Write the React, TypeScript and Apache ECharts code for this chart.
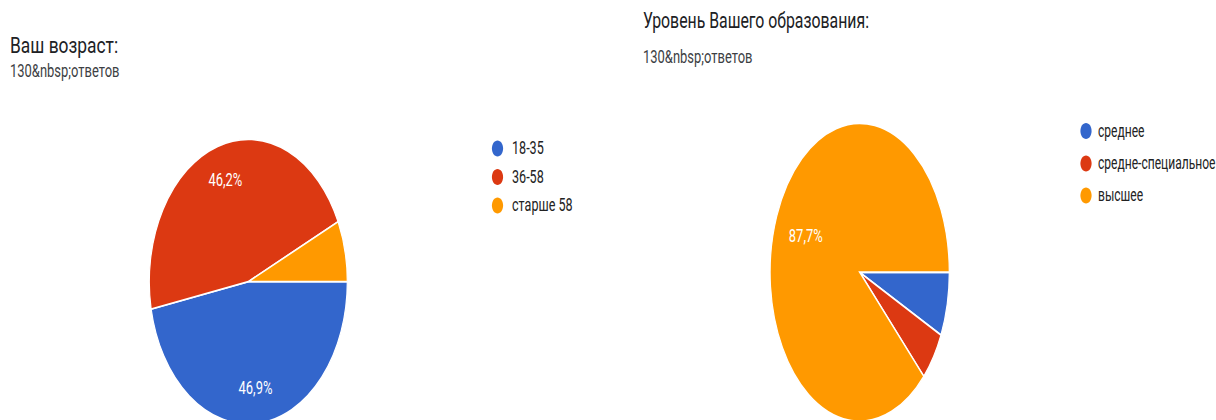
import React, { useEffect, useRef } from "react";
import * as echarts from "echarts";

// ---- data ----
const ageTitle = "Ваш возраст:";
const ageSubtitle = "130&nbsp;ответов";
const ageCategories = ["18-35", "36-58", "старше 58"];
const ageValues = [61, 60, 9];

const eduTitle = "Уровень Вашего образования:";
const eduSubtitle = "130&nbsp;ответов";
const eduCategories = ["среднее", "средне-специальное", "высшее"];
const eduValues = [9, 7, 114];

const sliceColors = ["#3366cc", "#dc3912", "#ff9900"];

// ---- layout ----
const FONT = "Roboto, 'Noto Sans', Arial, sans-serif";

type PieLayout = {
  cx: number;
  cy: number;
  rx: number;
  ry: number;
  labelF: number;
  titleX: number;
  titleY: number;
  titleSX: number;
  subY: number;
  legendDotX: number;
  legendTextX: number;
  legendY: number[];
  legendSX: number;
};

const leftLayout: PieLayout = {
  cx: 248.3,
  cy: 281.7,
  rx: 99,
  ry: 142.4,
  labelF: 0.75,
  titleX: 10,
  titleY: 45.5,
  titleSX: 0.79,
  subY: 71,
  legendDotX: 497.5,
  legendTextX: 512,
  legendY: [148.5, 177, 205.5],
  legendSX: 0.7,
};

const rightLayout: PieLayout = {
  cx: 859.7,
  cy: 272.3,
  rx: 89.6,
  ry: 149,
  labelF: 0.65,
  titleX: 643,
  titleY: 21,
  titleSX: 0.72,
  subY: 56.5,
  legendDotX: 1086,
  legendTextX: 1098,
  legendY: [131, 163.5, 195.5],
  legendSX: 0.67,
};

function buildSlices(values: number[]) {
  const total = values.reduce((a, b) => a + b, 0);
  let acc = 0;
  return values.map((v, i) => {
    const start = (acc / total) * Math.PI * 2;
    acc += v;
    const end = (acc / total) * Math.PI * 2;
    return [start, end, v, v / total, i];
  });
}

function fmtPct(share: number) {
  return (share * 100).toFixed(1).replace(".", ",") + "%";
}

function pieSeries(name: string, values: number[], L: PieLayout) {
  const data = buildSlices(values);
  return {
    type: "custom",
    name,
    coordinateSystem: "none",
    data,
    renderItem: (params: any, api: any) => {
      const start = api.value(0);
      const end = api.value(1);
      const share = api.value(3);
      const idx = api.value(4);
      const aspect = L.ry / L.rx;
      const children: any[] = [
        {
          type: "sector",
          scaleY: aspect,
          shape: { cx: 0, cy: 0, r0: 0, r: L.rx, startAngle: start, endAngle: end, clockwise: true },
          style: { fill: sliceColors[idx], stroke: "#ffffff", lineWidth: 1.2, strokeNoScale: true },
        },
      ];
      if (share > 0.1) {
        const mid = (start + end) / 2;
        children.push({
          type: "text",
          x: L.rx * L.labelF * Math.cos(mid),
          y: L.ry * L.labelF * Math.sin(mid),
          scaleX: 0.72,
          style: {
            text: fmtPct(share),
            fill: "#ffffff",
            font: `18px ${FONT}`,
            align: "center",
            verticalAlign: "middle",
          },
        });
      }
      return { type: "group", x: L.cx, y: L.cy, children };
    },
  };
}

function headerAndLegend(title: string, sub: string, cats: string[], L: PieLayout) {
  const els: any[] = [
    {
      type: "text",
      x: L.titleX,
      y: L.titleY,
      scaleX: L.titleSX,
      style: { text: title, fill: "#202124", font: `22px ${FONT}`, verticalAlign: "middle" },
    },
    {
      type: "text",
      x: L.titleX,
      y: L.subY,
      scaleX: 0.72,
      style: { text: sub, fill: "#3c4043", font: `18px ${FONT}`, verticalAlign: "middle" },
    },
  ];
  cats.forEach((c, i) => {
    els.push({
      type: "ellipse",
      shape: { cx: L.legendDotX, cy: L.legendY[i], rx: 5.6, ry: 8 },
      style: { fill: sliceColors[i] },
    });
    els.push({
      type: "text",
      x: L.legendTextX,
      y: L.legendY[i],
      scaleX: L.legendSX,
      style: { text: c, fill: "#222222", font: `18px ${FONT}`, verticalAlign: "middle" },
    });
  });
  return els;
}

export default function App() {
  const ref = useRef<HTMLDivElement>(null);
  useEffect(() => {
    if (!ref.current) return;
    const chart = echarts.init(ref.current, undefined, { renderer: "svg" });
    chart.setOption({
      animation: false,
      backgroundColor: "#ffffff",
      series: [pieSeries("age", ageValues, leftLayout), pieSeries("edu", eduValues, rightLayout)],
      graphic: {
        elements: [
          ...headerAndLegend(ageTitle, ageSubtitle, ageCategories, leftLayout),
          ...headerAndLegend(eduTitle, eduSubtitle, eduCategories, rightLayout),
        ],
      },
    });
    return () => chart.dispose();
  }, []);
  return (
    <div
      ref={ref}
      style={{ position: "fixed", left: 0, top: 0, width: 1216, height: 420, background: "#fff" }}
    />
  );
}
